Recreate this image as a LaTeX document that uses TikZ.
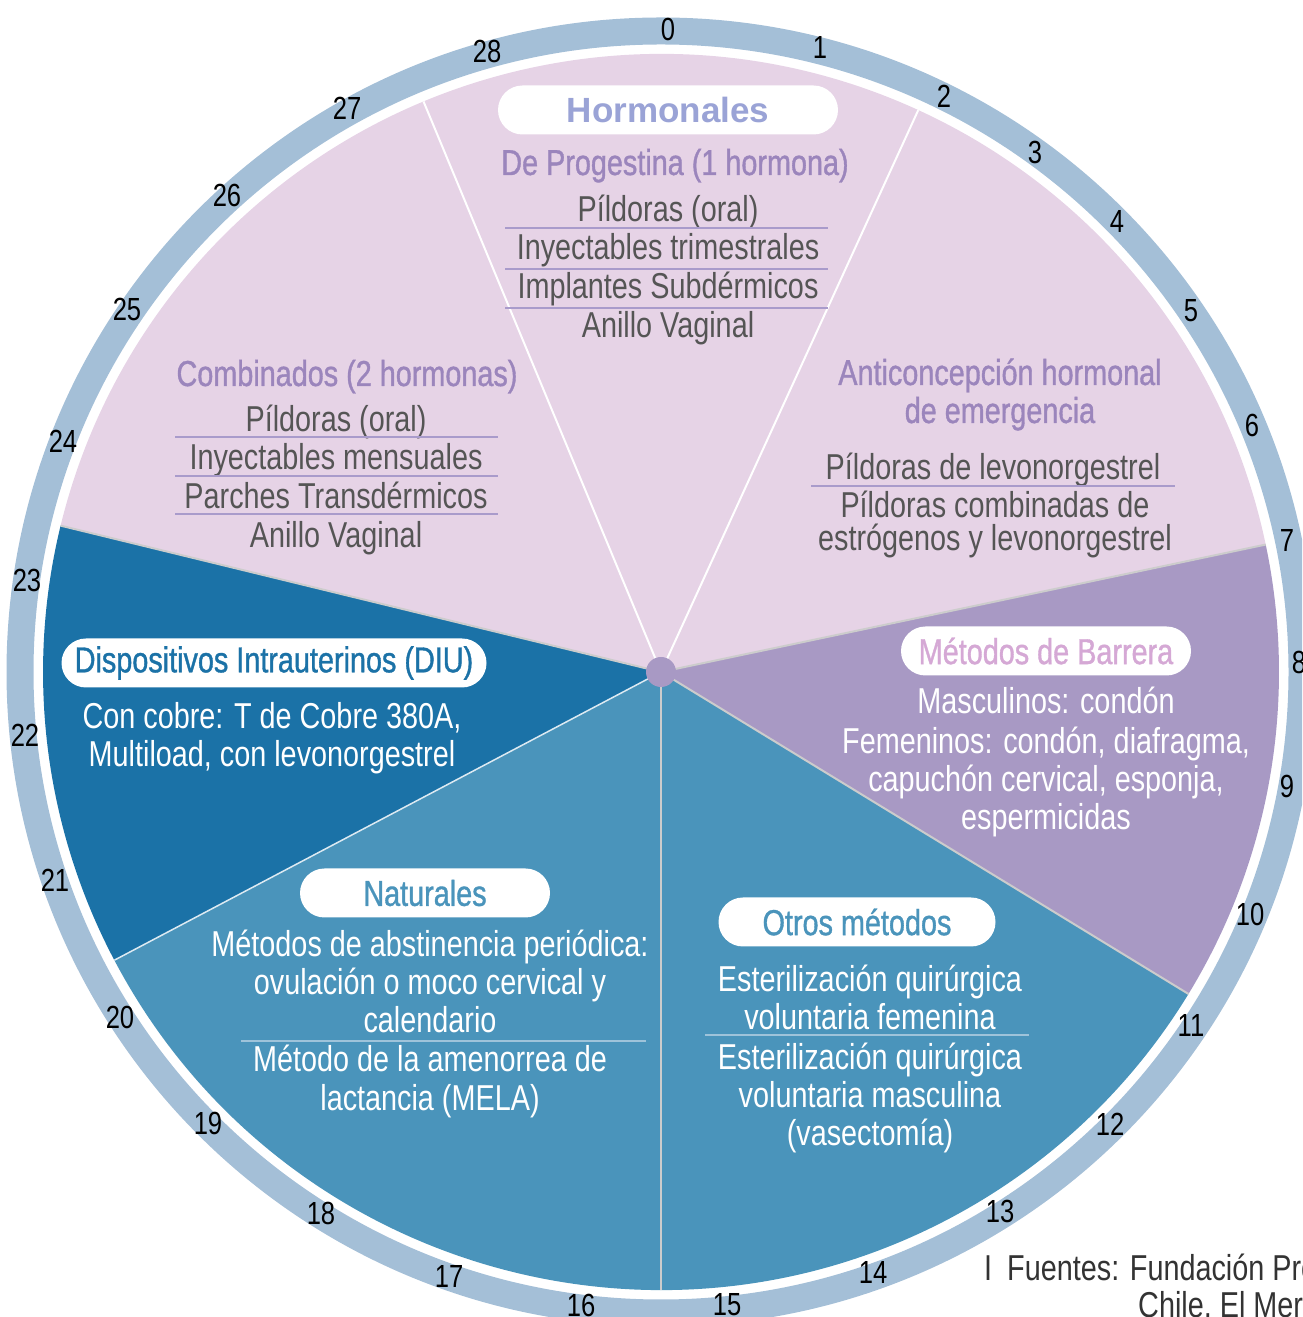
\documentclass[tikz,border=0pt]{standalone}
\usepackage{fontspec}
\setmainfont{Liberation Sans}[FakeStretch=0.8]
\newfontfamily\widefont{Liberation Sans}
\newfontfamily\medfont{Liberation Sans}[FakeStretch=0.8,FakeBold=1]
\definecolor{pinkbg}{HTML}{E6D3E6}
\definecolor{purplebg}{HTML}{A899C4}
\definecolor{diublue}{HTML}{1B72A7}
\definecolor{midblue}{HTML}{4A94BB}
\definecolor{ringblue}{HTML}{A4BFD7}
\definecolor{hormtitle}{HTML}{9AA3D6}
\definecolor{subtitle}{HTML}{9B85BC}
\definecolor{greytext}{HTML}{555555}
\definecolor{seppurple}{HTML}{A99BCB}
\definecolor{barreratext}{HTML}{D5A8D5}
\definecolor{sepblue}{HTML}{9EC3DA}
\definecolor{bordergrey}{HTML}{CCCCCC}
\tikzset{
  txt/.style={font=\fontsize{36}{38}\selectfont, inner sep=0pt, anchor=base, yshift=-13pt},
  graytxt/.style={txt, text=greytext},
  whitetxt/.style={txt, text=white},
  subhead/.style={font=\medfont\fontsize{36}{38}\selectfont, inner sep=0pt, anchor=base, yshift=-13pt, text=subtitle},
  pill/.style={fill=white, rounded corners=24.5pt, minimum height=49pt, inner sep=0pt, font=\medfont\fontsize{36}{38}\selectfont},
  num/.style={font=\fontsize{32}{32}\selectfont, inner sep=0pt, text=black},
  seppink/.style={draw=seppurple, line width=1.2pt},
  sepbl/.style={draw=sepblue, line width=1.2pt},
  wline/.style={draw=white, line width=2pt},
  gline/.style={draw=bordergrey, line width=2pt},
}
\begin{document}
\begin{tikzpicture}[x=1pt,y=1pt]
\useasboundingbox (0,0) rectangle (1302,1317);
\clip (0,0) rectangle (1302,1317);
\coordinate (c) at (661,645);
% outer ring
\draw[ringblue, line width=27pt] (c) circle[radius=641];
% sectors
\fill[pinkbg] (c) -- ++(11.9:618) arc[start angle=11.9, end angle=166.3, radius=618] -- cycle;
\fill[diublue] (c) -- ++(166.3:618) arc[start angle=166.3, end angle=207.8, radius=618] -- cycle;
\fill[midblue] (c) -- ++(207.8:618) arc[start angle=207.8, end angle=328.6, radius=618] -- cycle;
\fill[purplebg] (c) -- ++(-31.4:618) arc[start angle=-31.4, end angle=11.9, radius=618] -- cycle;
% dividing lines
\draw[wline] (c) -- ++(112.6:618);
\draw[wline] (c) -- ++(65.4:618);
\draw[gline] (c) -- ++(11.9:618);
\draw[gline] (c) -- ++(166.3:618);
\draw[gline] (c) -- ++(-31.4:618);
\draw[gline] (c) -- ++(-90:618);
\draw[draw=white!85!diublue, line width=1.5pt] (c) -- ++(207.8:618);
\fill[purplebg] (c) circle[radius=15];
% day numbers
\foreach \n/\x/\y in {0/668/1287,1/820/1269,2/944/1221,3/1035/1165,4/1117/1095,5/1191/1006,6/1252/892,7/1287/776,8/1299/655,9/1287/531,10/1250/403,11/1191/292,12/1110/193,13/1000/106,14/873/45,15/727/12,16/581/12,17/449/41,18/321/104,19/208/194,20/120/300,21/55/437,22/25/582,23/27/737,24/63/876,25/127/1008,26/227/1122,27/347/1209,28/487/1265}
  \node[num] (d\n) at (\x,\y) {\n};
% Hormonales
\node[pill, minimum width=340pt, font=\widefont\bfseries\fontsize{35}{36}\selectfont, text=hormtitle] (horm) at (668,1207) {Hormonales};
\node[subhead] (prog) at (675,1155) {De Progestina (1 hormona)};
\node[graytxt] (p1) at (668,1108) {Píldoras (oral)};
\node[graytxt] (p2) at (668,1070) {Inyectables trimestrales};
\node[graytxt] (p3) at (668,1031) {Implantes Subdérmicos};
\node[graytxt] (p4) at (668,992) {Anillo Vaginal};
\draw[seppink] (505,1089) -- (828,1089);
\draw[seppink] (505,1048) -- (828,1048);
\draw[seppink] (505,1009) -- (828,1009);
% Combinados
\node[subhead] (comb) at (347,944) {Combinados (2 hormonas)};
\node[graytxt] (c1) at (336,898) {Píldoras (oral)};
\node[graytxt] (c2) at (336,860) {Inyectables mensuales};
\node[graytxt] (c3) at (336,821) {Parches Transdérmicos};
\node[graytxt] (c4) at (336,782) {Anillo Vaginal};
\draw[seppink] (175,880) -- (498,880);
\draw[seppink] (175,841) -- (498,841);
\draw[seppink] (175,803) -- (498,803);
% Emergencia
\node[subhead] (em1) at (1000,945) {Anticoncepción hormonal};
\node[subhead] (em2) at (1000,907) {de emergencia};
\node[graytxt] (e1) at (993,850) {Píldoras de levonorgestrel};
\draw[seppink] (811,831) -- (1175,831);
\node[graytxt] (e2) at (995,812) {Píldoras combinadas de};
\node[graytxt] (e3) at (995,779) {estrógenos y levonorgestrel};
% Barrera
\node[pill, minimum width=290pt, text=barreratext] (barr) at (1046,666) {Métodos de Barrera};
\node[whitetxt] (b1) at (1046,616) {Masculinos: condón};
\node[whitetxt] (b2) at (1046,576) {Femeninos: condón, diafragma,};
\node[whitetxt] (b3) at (1046,538) {capuchón cervical, esponja,};
\node[whitetxt] (b4) at (1046,500) {espermicidas};
% DIU
\node[pill, minimum width=425pt, text=diublue] (diu) at (274,654) {Dispositivos Intrauterinos (DIU)};
\node[whitetxt] (u1) at (272,601) {Con cobre: T de Cobre 380A,};
\node[whitetxt] (u2) at (272,563) {Multiload, con levonorgestrel};
% Naturales
\node[pill, minimum width=250pt, text=midblue] (nat) at (425,424) {Naturales};
\node[whitetxt] (n1) at (430,373) {Métodos de abstinencia periódica:};
\node[whitetxt] (n2) at (430,335) {ovulación o moco cervical y};
\node[whitetxt] (n3) at (430,297) {calendario};
\draw[sepbl] (241,276) -- (646,276);
\node[whitetxt] (n4) at (430,258) {Método de la amenorrea de};
\node[whitetxt] (n5) at (430,219) {lactancia (MELA)};
% Otros
\node[pill, minimum width=277pt, text=midblue] (otr) at (857,395) {Otros métodos};
\node[whitetxt] (o1) at (870,338) {Esterilización quirúrgica};
\node[whitetxt] (o2) at (870,300) {voluntaria femenina};
\draw[sepbl] (705,282) -- (1029,282);
\node[whitetxt] (o3) at (870,260) {Esterilización quirúrgica};
\node[whitetxt] (o4) at (870,222) {voluntaria masculina};
\node[whitetxt] (o5) at (870,184) {(vasectomía)};
% source
\node[txt, text=black!80, anchor=base] (bar) at (988,49) {I};
\node[txt, text=black!80, anchor=base west] (src1) at (1007,49) {Fuentes: Fundación Pro};
\node[txt, text=black!80, anchor=base west] (src2) at (1138,12) {Chile, El Merc};
\end{tikzpicture}
\end{document}
